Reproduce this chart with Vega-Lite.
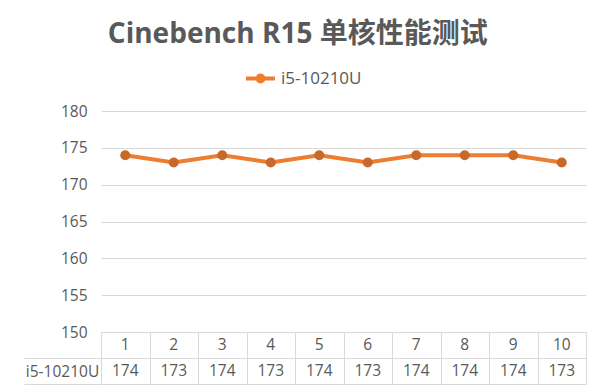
{
  "$schema": "https://vega.github.io/schema/vega-lite/v6.json",
  "padding": {"left": 23, "top": 21, "right": 15, "bottom": 5},
  "background": "white",
  "bounds": "flush",
  "title": {
    "text": "Cinebench R15 单核性能测试",
    "fontSize": 28,
    "font": "Open Sans, Noto Sans CJK SC",
    "fontWeight": "bold",
    "color": "#595959",
    "anchor": "middle",
    "dx": -7,
    "offset": 13
  },
  "data": {
    "values": [
      {"k": 1, "v": 174},
      {"k": 2, "v": 173},
      {"k": 3, "v": 174},
      {"k": 4, "v": 173},
      {"k": 5, "v": 174},
      {"k": 6, "v": 173},
      {"k": 7, "v": 174},
      {"k": 8, "v": 174},
      {"k": 9, "v": 174},
      {"k": 10, "v": 173}
    ]
  },
  "spacing": 0,
  "resolve": {"scale": {"x": "independent", "y": "independent"}},
  "vconcat": [
    {
      "width": 485,
      "height": 221,
      "encoding": {
        "x": {"field": "k", "type": "ordinal", "scale": {"type": "point", "padding": 0.5}, "axis": null},
        "y": {
          "field": "v",
          "type": "quantitative",
          "scale": {"domain": [150, 180], "nice": false, "zero": false},
          "axis": {
            "values": [150, 155, 160, 165, 170, 175, 180],
            "title": null,
            "domain": false,
            "ticks": false,
            "labelPadding": 14,
            "gridColor": "#D9D9D9",
            "labelFontSize": 15.5,
            "labelColor": "#595959",
            "labelFont": "Open Sans"
          }
        }
      },
      "layer": [
        {
          "mark": {"type": "line", "strokeWidth": 4},
          "encoding": {
            "color": {
              "datum": "i5-10210U",
              "type": "nominal",
              "scale": {"range": ["#ED7D31"]},
              "legend": {
                "title": null,
                "orient": "none",
                "legendX": 143,
                "legendY": -49,
                "direction": "horizontal",
                "symbolType": "M-1,0L1,0M-0.2,0A0.2,0.2 0 1,1 0.2,0A0.2,0.2 0 1,1 -0.2,0M-0.06,0A0.06,0.06 0 1,1 0.06,0A0.06,0.06 0 1,1 -0.06,0",
                "symbolSize": 841,
                "symbolStrokeWidth": 4,
                "labelFontSize": 17,
                "labelColor": "#595959",
                "labelFont": "Open Sans"
              }
            }
          }
        },
        {
          "mark": {"type": "circle", "color": "#C8692A", "size": 100, "opacity": 1}
        }
      ]
    },
    {
      "width": 485,
      "height": 52,
      "transform": [{"fold": ["k", "v"], "as": ["row", "val"]}],
      "mark": {"type": "text", "fontSize": 15.5, "color": "#595959", "font": "Open Sans"},
      "encoding": {
        "x": {
          "field": "k",
          "type": "ordinal",
          "scale": {"type": "band", "paddingInner": 0, "paddingOuter": 0},
          "axis": {
            "orient": "top",
            "title": null,
            "labels": false,
            "ticks": false,
            "domain": false,
            "grid": true,
            "tickBand": "extent",
            "gridColor": "#D9D9D9",
            "minExtent": 0,
            "maxExtent": 0
          }
        },
        "y": {
          "field": "row",
          "type": "nominal",
          "scale": {"domain": ["k", "v"], "paddingInner": 0, "paddingOuter": 0},
          "axis": {
            "values": ["v"],
            "title": null,
            "grid": true,
            "tickBand": "extent",
            "gridColor": "#D9D9D9",
            "domain": false,
            "tickSize": 77,
            "tickColor": "#D9D9D9",
            "labelExpr": "datum.value === 'v' ? 'i5-10210U' : ''",
            "labelAlign": "center",
            "labelPadding": -38,
            "labelFontSize": 15.5,
            "labelColor": "#595959",
            "labelFont": "Open Sans"
          }
        },
        "text": {"field": "val"}
      }
    }
  ],
  "config": {
    "view": {"stroke": null},
    "font": "Open Sans"
  }
}
